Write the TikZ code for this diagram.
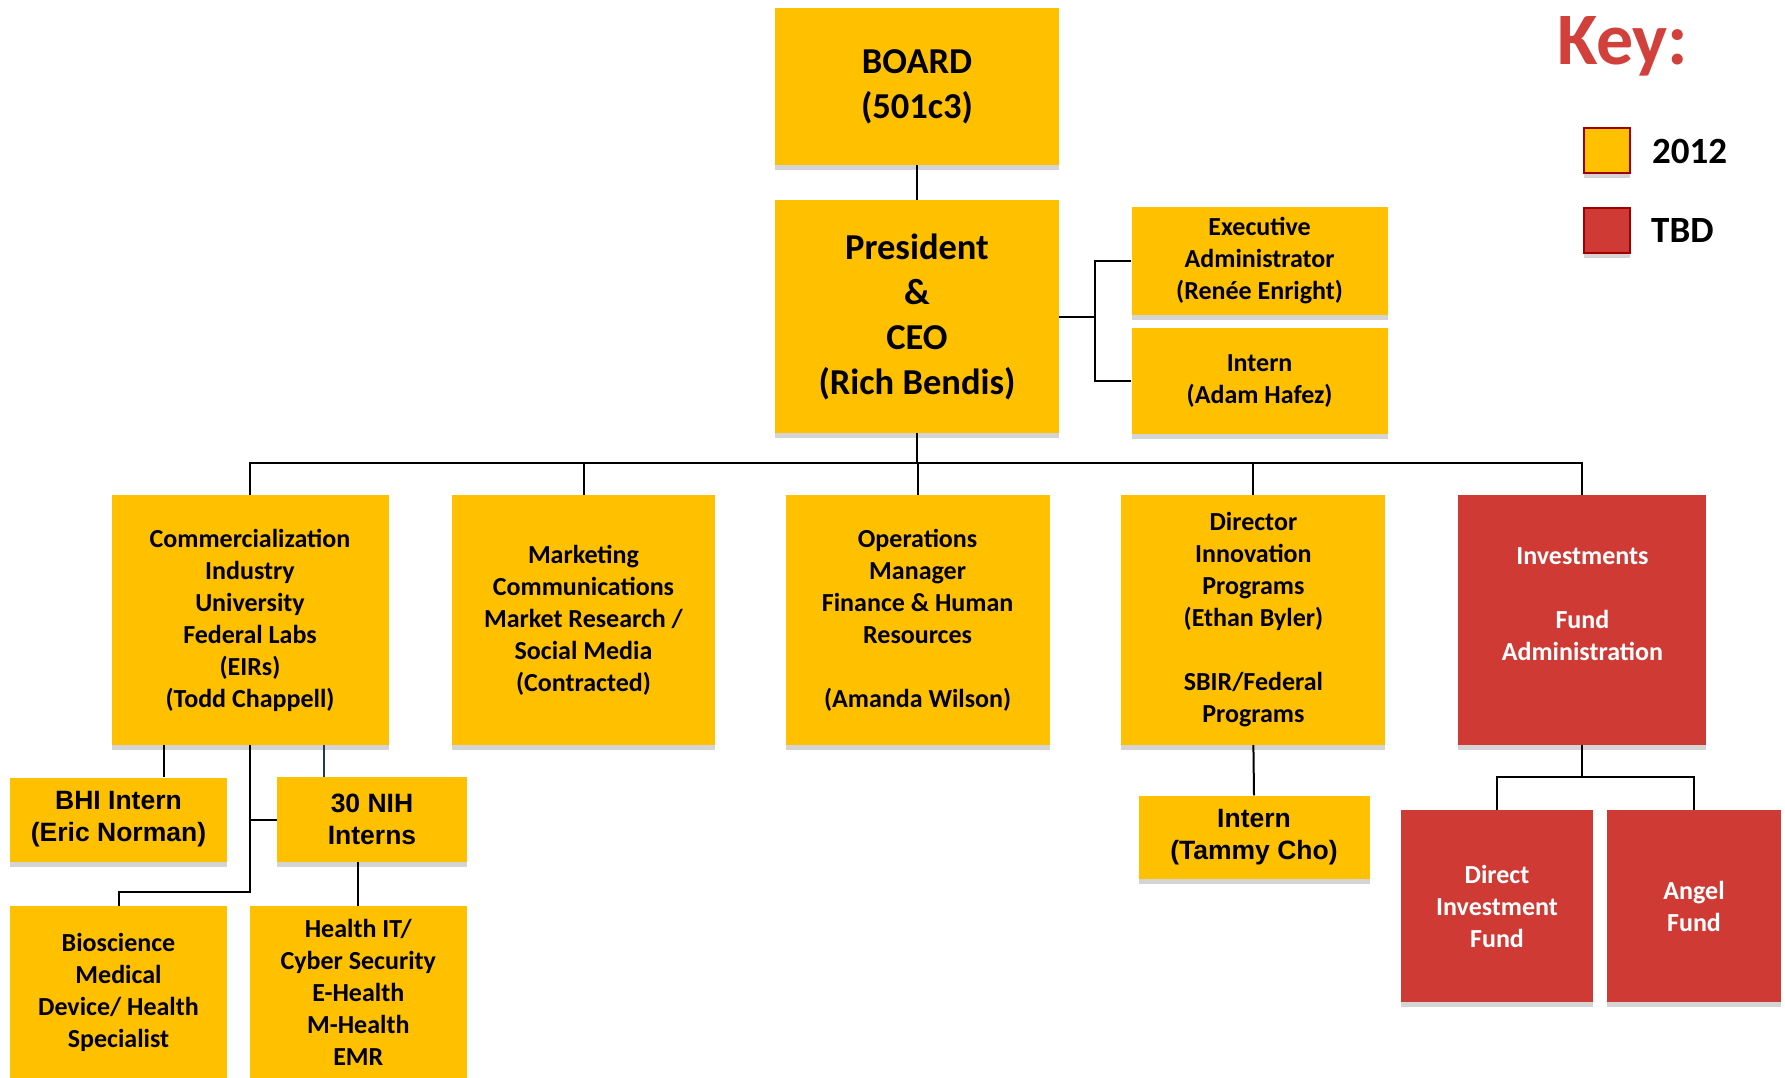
\documentclass[tikz,border=0pt]{standalone}
\usepackage{fontspec}
\setmainfont{Carlito}
\newfontfamily\arialfont{Liberation Sans}
\usetikzlibrary{calc,shadows}

\definecolor{gold}{HTML}{FFC000}
\definecolor{tbdred}{HTML}{CF3A35}
\definecolor{keyred}{HTML}{D1403B}
\definecolor{keyborder}{HTML}{A00000}
\definecolor{shade}{HTML}{D4D4D4}
\definecolor{navyline}{HTML}{1F3864}

\tikzset{
  box/.style={rectangle, inner sep=0pt, align=center, fill=gold, text=black,
    drop shadow={shadow xshift=0pt, shadow yshift=-5pt, fill=shade, opacity=1},
    font=\bfseries\fontsize{26}{32}\selectfont},
  bigbox/.style={box, font=\bfseries\fontsize{36.5}{45}\selectfont},
  tbdbox/.style={box, fill=tbdred, text=white},
  armbox/.style={box, font=\arialfont\bfseries\fontsize{26.5}{32}\selectfont},
  keybox/.style={box, draw=keyborder, line width=2pt, minimum width=46pt, minimum height=45pt},
  keytext/.style={inner sep=0pt, anchor=west, font=\bfseries\fontsize{37}{44}\selectfont},
  link/.style={draw=black, line width=2pt}
}

\begin{document}
\begin{tikzpicture}[x=1pt, y=-1pt]
	\useasboundingbox (0,0) rectangle (1785,1078);

	% top of the chart
	\node[bigbox, minimum width=284pt, minimum height=157pt] (board) at (917,86.5) {BOARD\\(501c3)};
	\node[bigbox, minimum width=284pt, minimum height=233pt] (pres) at (917,316.5) {President\\\&\\CEO\\(Rich Bendis)};
	\node[box, minimum width=256pt, minimum height=108pt] (exec) at (1259.6,261) {Executive\\Administrator\\(Renée Enright)};
	\node[box, minimum width=256pt, minimum height=106pt] (adam) at (1259.6,381) {Intern\\(Adam Hafez)};

	% second row
	\node[box, minimum width=277pt, minimum height=250pt] (comm) at (250,620)
		{Commercialization\\Industry\\University\\Federal Labs\\(EIRs)\\(Todd Chappell)};
	\node[box, minimum width=263pt, minimum height=250pt] (mkt) at (583.5,620)
		{Marketing\\Communications\\Market Research /\\Social Media\\(Contracted)};
	\node[box, minimum width=264pt, minimum height=250pt] (ops) at (917.6,620)
		{Operations\\Manager\\Finance \& Human\\Resources\\[32pt](Amanda Wilson)};
	\node[box, minimum width=264pt, minimum height=250pt] (dir) at (1253.4,620)
		{Director\\Innovation\\Programs\\(Ethan Byler)\\[32pt]SBIR/Federal\\Programs};
	\node[tbdbox, minimum width=248pt, minimum height=250pt] (inv) at (1582.4,620)
		{Investments\\[32pt]Fund\\Administration\\\mbox{}};

	% lower rows
	\node[armbox, minimum width=217pt, minimum height=84pt] (bhi) at (118.5,819.5) {BHI Intern\\(Eric Norman)};
	\node[armbox, minimum width=190pt, minimum height=85pt] (nih) at (372,819.5) {30 NIH\\Interns};
	\node[box, minimum width=217pt, minimum height=172pt] (bio) at (118.5,992)
		{Bioscience\\Medical\\Device/ Health\\Specialist};
	\node[box, minimum width=217pt, minimum height=172pt] (health) at (358.3,992)
		{Health IT/\\Cyber Security\\E-Health\\M-Health\\EMR};
	\node[armbox, minimum width=231pt, minimum height=83pt] (tammy) at (1254,837) {Intern\\(Tammy Cho)};
	\node[tbdbox, minimum width=192pt, minimum height=192pt] (direct) at (1497,906) {Direct\\Investment\\Fund};
	\node[tbdbox, minimum width=174pt, minimum height=192pt] (angel) at (1694,906) {Angel\\Fund};

	% key
	\node[inner sep=0pt, anchor=base west, text=keyred, font=\bfseries\fontsize{74}{80}\selectfont] (keytitle) at (1557,65) {Key:};
	\node[keybox] (key2012) at (1607.4,151) {};
	\node[keybox, fill=tbdred] (keytbd) at (1607.4,230.5) {};
	\node[keytext] (lbl2012) at (1652,151) {2012};
	\node[keytext] (lbltbd) at (1651,231) {TBD};

	% connectors
	\draw[link] (board.south) -- (pres.north);
	\coordinate (pbr) at (1095,316.5);
	\draw[link] (pres.east) -- (pbr);
	\draw[link] (exec.west) -| (pbr) |- (adam.west);

	\coordinate (bus) at (917,463);
	\draw[link] (pres.south) -- (bus);
	\foreach \n in {comm,mkt,ops,dir,inv}
		\draw[link] (bus) -| (\n.north);

	\draw[link] (comm.south west) ++(53,0) coordinate (bhitap) -- (bhitap |- bhi.north);
	\draw[navyline, line width=2pt] (comm.south west) ++(213,0) coordinate (nihtap) -- (nihtap |- nih.north);
	\coordinate (cjoin) at (250,892);
	\draw[link] (comm.south) -- (cjoin) -| (bio.north);
	\draw[link] (comm.south |- nih.west) -- (nih.west);
	\draw[link] (nih.south -| health.north) -- (health.north);

	\draw[link] (dir.south) -- (tammy.north);

	\coordinate (ijoin) at (1582.4,777);
	\draw[link] (inv.south) -- (ijoin);
	\draw[link] (direct.north) |- (ijoin) -| (angel.north);
\end{tikzpicture}
\end{document}
